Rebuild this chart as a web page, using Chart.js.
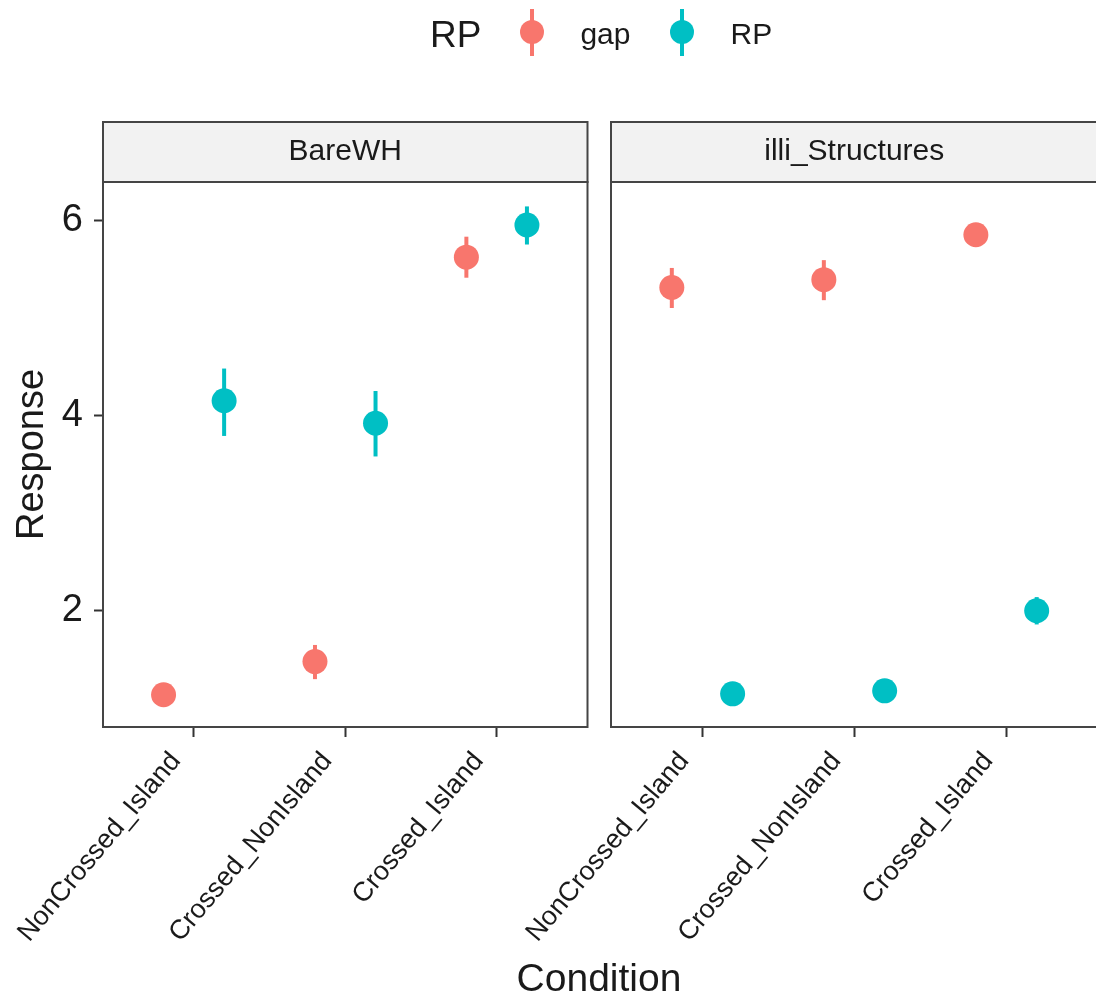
<!DOCTYPE html>
<html>
<head>
<meta charset="utf-8">
<title>Response by Condition</title>
<script src="https://cdn.jsdelivr.net/npm/chart.js@4.4.1/dist/chart.umd.min.js"></script>
<style>
  html, body { margin: 0; padding: 0; background: #fff; }
  body {
    position: relative; width: 1096px; height: 997px; overflow: hidden;
    font-family: "Liberation Sans", Arial, Helvetica, sans-serif; color: #1a1a1a;
  }
  canvas { position: absolute; top: 0; }
  #panelA { left: 0; }
  #panelB { left: 480px; }
  #legend {
    position: absolute; top: 0; left: 430px; height: 68px;
    display: flex; align-items: center;
  }
  .lg-title { font-size: 37px; line-height: 1; margin-right: 39px; }
  .lg-key { position: relative; width: 24px; height: 47px; margin-top: -3px; }
  .lg-key::before {
    content: ""; position: absolute; left: 10px; top: 0; width: 4px; height: 47px; background: var(--c);
  }
  .lg-key::after {
    content: ""; position: absolute; left: 0; top: 11px; width: 24px; height: 24px; border-radius: 50%; background: var(--c);
  }
  .lg-label { font-size: 30px; line-height: 1; margin-left: 36px; margin-right: 40px; }
  #xTitle {
    position: absolute; left: 599px; top: 958px; transform: translateX(-50%);
    font-size: 39px; line-height: 1; white-space: nowrap;
  }
</style>
</head>
<body>
<canvas id="panelA" width="600" height="997"></canvas>
<canvas id="panelB" width="630" height="997"></canvas>
<div id="legend"></div>
<div id="xTitle">Condition</div>
<script>
// faceted pointrange plot: two panels sharing the y scale, gap vs RP dodged per condition

const conditions = ['NonCrossed_Island', 'Crossed_NonIsland', 'Crossed_Island'];
const facetNames = ['BareWH', 'illi_Structures'];
const seriesNames = ['gap', 'RP'];
const yTickValues = [2, 4, 6];

// BareWH: means and interval ends
const bareGap   = [1.14, 1.48, 5.62];
const bareGapLo = [1.10, 1.30, 5.41];
const bareGapHi = [1.18, 1.65, 5.83];
const bareRP    = [4.15, 3.92, 5.95];
const bareRPLo  = [3.79, 3.58, 5.75];
const bareRPHi  = [4.48, 4.25, 6.14];

// illi_Structures
const illiGap   = [5.31, 5.39, 5.85];
const illiGapLo = [5.10, 5.18, 5.81];
const illiGapHi = [5.51, 5.59, 5.89];
const illiRP    = [1.15, 1.18, 2.00];
const illiRPLo  = [1.11, 1.14, 1.86];
const illiRPHi  = [1.19, 1.22, 2.14];

const seriesColors = ['#F8766D', '#00BFC4'];
const yRange = [0.81, 6.39];
const xRange = [0.4, 3.6];
const dodge = 0.2;

Chart.defaults.font.family = '"Liberation Sans", Arial, Helvetica, sans-serif';
Chart.defaults.color = '#1a1a1a';

// legend strip at the top
document.getElementById('legend').innerHTML =
  '<span class="lg-title">RP</span>' +
  seriesNames.map(function (s, i) {
    return '<span class="lg-key" style="--c:' + seriesColors[i] + '"></span><span class="lg-label">' + s + '</span>';
  }).join('');

// error bars under the points, then panel border and facet strip on top
const facetFrame = {
  id: 'facetFrame',
  beforeDatasetsDraw(chart) {
    const ctx = chart.ctx;
    const y = chart.scales.y;
    ctx.save();
    ctx.lineWidth = 4;
    chart.data.datasets.forEach(function (ds, i) {
      ctx.strokeStyle = ds.backgroundColor;
      chart.getDatasetMeta(i).data.forEach(function (pt, j) {
        const raw = ds.data[j];
        ctx.beginPath();
        ctx.moveTo(pt.x, y.getPixelForValue(raw.lo));
        ctx.lineTo(pt.x, y.getPixelForValue(raw.hi));
        ctx.stroke();
      });
    });
    ctx.restore();
  },
  afterDraw(chart, args, opts) {
    const ctx = chart.ctx;
    const a = chart.chartArea;
    const stripH = 60;
    ctx.save();
    ctx.strokeStyle = '#454545';
    ctx.lineWidth = 2;
    ctx.strokeRect(a.left, a.top, a.right - a.left, a.bottom - a.top);
    ctx.fillStyle = '#F2F2F2';
    ctx.fillRect(a.left, a.top - stripH, a.right - a.left, stripH);
    ctx.strokeRect(a.left, a.top - stripH, a.right - a.left, stripH);
    ctx.fillStyle = '#1a1a1a';
    ctx.font = '30px "Liberation Sans", Arial, sans-serif';
    ctx.textAlign = 'center';
    ctx.textBaseline = 'middle';
    ctx.fillText(opts.title, (a.left + a.right) / 2, a.top - stripH / 2);
    ctx.restore();
  }
};

function points(vals, lo, hi, shift) {
  return vals.map(function (v, i) {
    return { x: i + 1 + shift, y: v, lo: lo[i], hi: hi[i] };
  });
}

function panel(canvasId, title, series, showY, pad) {
  return new Chart(document.getElementById(canvasId), {
    type: 'scatter',
    data: {
      datasets: series.map(function (s, k) {
        return {
          label: seriesNames[k],
          data: points(s[0], s[1], s[2], k === 0 ? -dodge : dodge),
          backgroundColor: seriesColors[k],
          borderWidth: 0,
          pointRadius: 12.5,
          pointHoverRadius: 12.5
        };
      })
    },
    options: {
      responsive: false,
      animation: false,
      events: [],
      layout: { padding: pad },
      plugins: {
        legend: { display: false },
        tooltip: { enabled: false },
        facetFrame: { title: title }
      },
      scales: {
        x: {
          type: 'linear',
          min: xRange[0],
          max: xRange[1],
          afterBuildTicks: function (s) {
            s.ticks = conditions.map(function (c, i) { return { value: i + 1 }; });
          },
          afterFit: function (s) {
            s.height = 270;
            s.paddingLeft = 0;
            s.paddingRight = 0;
          },
          border: { display: false },
          grid: { drawOnChartArea: false, tickLength: 10, tickWidth: 2, tickColor: '#333' },
          ticks: {
            autoSkip: false,
            minRotation: 50,
            maxRotation: 50,
            padding: 9,
            labelOffset: -18,
            font: { size: 27 },
            callback: function (v) { return conditions[v - 1]; }
          }
        },
        y: {
          display: showY,
          min: yRange[0],
          max: yRange[1],
          afterBuildTicks: function (s) {
            s.ticks = yTickValues.map(function (v) { return { value: v }; });
          },
          afterFit: function (s) { if (showY) s.width = 103; },
          border: { display: false },
          grid: { drawOnChartArea: false, tickLength: 9, tickWidth: 2, tickColor: '#333' },
          ticks: { padding: 11, font: { size: 38 } },
          title: { display: true, text: 'Response', font: { size: 38 }, padding: { top: 10, bottom: 0 } }
        }
      }
    },
    plugins: [facetFrame]
  });
}

panel('panelA', facetNames[0],
  [[bareGap, bareGapLo, bareGapHi], [bareRP, bareRPLo, bareRPHi]],
  true, { left: 0, right: 10, top: 182, bottom: 0 });

panel('panelB', facetNames[1],
  [[illiGap, illiGapLo, illiGapHi], [illiRP, illiRPLo, illiRPHi]],
  false, { left: 131, right: 12, top: 182, bottom: 0 });
</script>
</body>
</html>
